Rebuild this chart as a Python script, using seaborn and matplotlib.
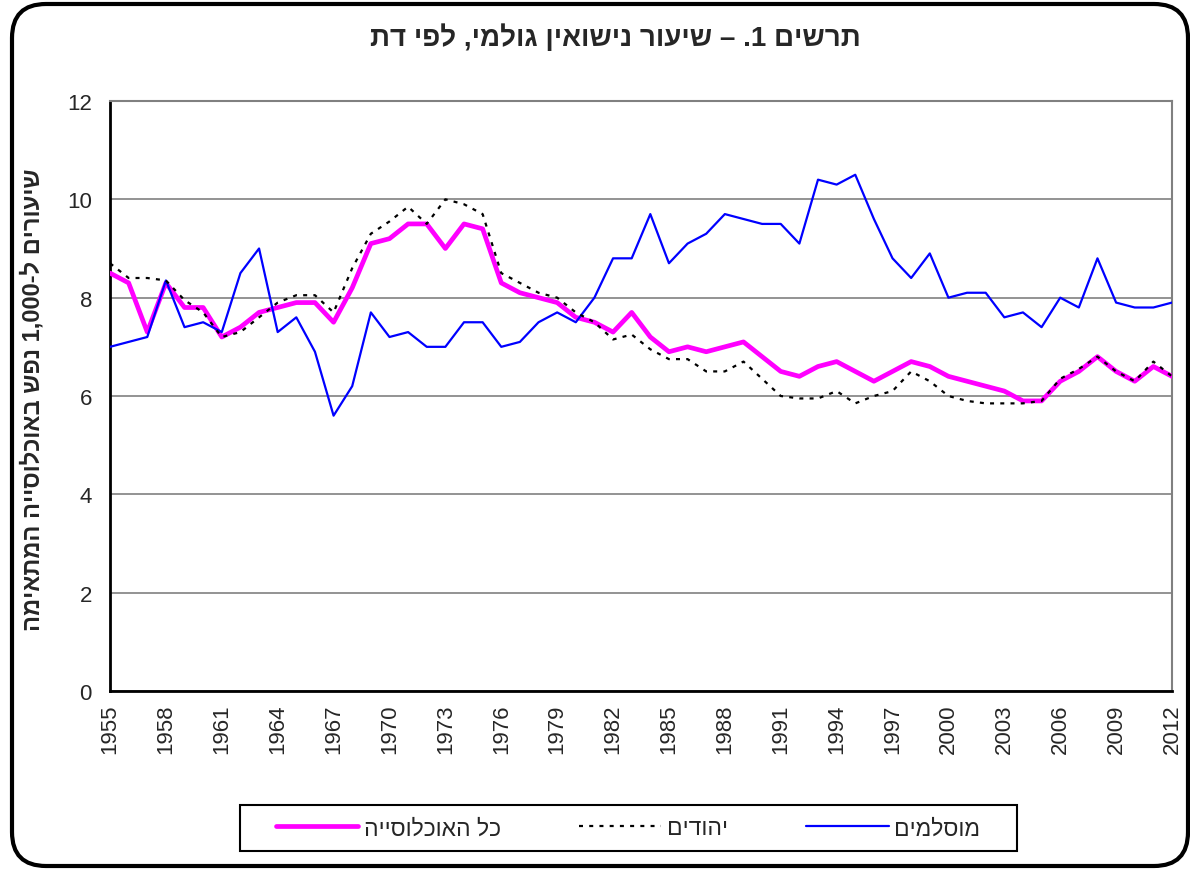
import re
import matplotlib
matplotlib.use("Agg")
import matplotlib.pyplot as plt
from matplotlib.patches import FancyBboxPatch, Rectangle
import pandas as pd
import seaborn as sns

# Crude marriage rate per 1,000 population, by religion, 1955-2012
years = list(range(1955, 2013))

total = [8.5, 8.3, 7.3, 8.3, 7.8, 7.8, 7.2, 7.4, 7.7, 7.8,      # 1955-1964
         7.9, 7.9, 7.5, 8.2, 9.1, 9.2, 9.5, 9.5, 9.0, 9.5,      # 1965-1974
         9.4, 8.3, 8.1, 8.0, 7.9, 7.6, 7.5, 7.3, 7.7, 7.2,      # 1975-1984
         6.9, 7.0, 6.9, 7.0, 7.1, 6.8, 6.5, 6.4, 6.6, 6.7,      # 1985-1994
         6.5, 6.3, 6.5, 6.7, 6.6, 6.4, 6.3, 6.2, 6.1, 5.9,      # 1995-2004
         5.9, 6.3, 6.5, 6.8, 6.5, 6.3, 6.6, 6.4]                # 2005-2012

jews = [8.7, 8.4, 8.4, 8.35, 7.95, 7.7, 7.2, 7.3, 7.6, 7.9,
        8.05, 8.05, 7.7, 8.6, 9.3, 9.55, 9.85, 9.5, 10.0, 9.9,
        9.7, 8.5, 8.3, 8.1, 8.0, 7.7, 7.5, 7.15, 7.25, 6.95,
        6.75, 6.75, 6.5, 6.5, 6.7, 6.35, 6.0, 5.95, 5.95, 6.1,
        5.85, 6.0, 6.1, 6.5, 6.3, 6.0, 5.9, 5.85, 5.85, 5.85,
        5.9, 6.35, 6.55, 6.8, 6.5, 6.3, 6.7, 6.4]

muslims = [7.0, 7.1, 7.2, 8.35, 7.4, 7.5, 7.3, 8.5, 9.0, 7.3,
           7.6, 6.9, 5.6, 6.2, 7.7, 7.2, 7.3, 7.0, 7.0, 7.5,
           7.5, 7.0, 7.1, 7.5, 7.7, 7.5, 8.0, 8.8, 8.8, 9.7,
           8.7, 9.1, 9.3, 9.7, 9.6, 9.5, 9.5, 9.1, 10.4, 10.3,
           10.5, 9.6, 8.8, 8.4, 8.9, 8.0, 8.1, 8.1, 7.6, 7.7,
           7.4, 8.0, 7.8, 8.8, 7.9, 7.8, 7.8, 7.9]

series_names = ["כל האוכלוסייה", "יהודים", "מוסלמים"]
title_text = "תרשים 1. – שיעור נישואין גולמי, לפי דת"
ylabel_text = "שיעורים ל-1,000 נפש באוכלוסייה המתאימה"
y_ticks = [0, 2, 4, 6, 8, 10, 12]
x_label_years = list(range(1955, 2013, 3))


def visual(s):
    """Reorder a right-to-left string for left-to-right drawing, keeping numbers intact."""
    r = s[::-1]
    return re.sub(r"[0-9][0-9.,]*[0-9]|[0-9]", lambda m: m.group(0)[::-1], r)


sns.set_style("white")
plt.rcParams["font.family"] = ["Liberation Sans", "DejaVu Sans"]

W, H, DPI = 1190, 870, 100
fig = plt.figure(figsize=(W / DPI, H / DPI), dpi=DPI)
fig.patch.set_facecolor("white")

L, R, T, B = 110, 1172, 102, 692
ax = fig.add_axes([L / W, 1 - B / H, (R - L) / W, (B - T) / H])

df = pd.DataFrame({"year": years, "total": total, "jews": jews, "muslims": muslims})

sns.lineplot(data=df, x="year", y="total", ax=ax, color="#FF00FF", linewidth=3.4,
             label=visual(series_names[0]), zorder=3)
sns.lineplot(data=df, x="year", y="muslims", ax=ax, color="#0000FF", linewidth=1.6,
             label=visual(series_names[2]), zorder=4)
sns.lineplot(data=df, x="year", y="jews", ax=ax, color="black", linewidth=1.6,
             linestyle=(0, (1.8, 2.8)), label=visual(series_names[1]), zorder=5)

ax.set_xlim(1955, 2012)
ax.set_ylim(0, 12)
ax.set_yticks(y_ticks)
ax.set_yticklabels([str(v) for v in y_ticks], fontsize=16)
ax.set_xticks(years)
ax.set_xticklabels([str(y) if y in x_label_years else "" for y in years],
                   rotation=90, fontsize=16)
ax.tick_params(axis="both", direction="out", length=6, width=1.5, color="black")
ax.tick_params(axis="y", pad=7)
ax.tick_params(axis="x", pad=3)
ax.set_xlabel("")
ax.set_ylabel("")

ax.yaxis.grid(True, color="#808080", linewidth=1.2)
ax.xaxis.grid(False)
ax.set_axisbelow(True)
for side in ("left", "bottom"):
    ax.spines[side].set_color("black")
    ax.spines[side].set_linewidth(2)
for side in ("top", "right"):
    ax.spines[side].set_color("#808080")
    ax.spines[side].set_linewidth(1.5)

# Legend: handles ordered left to right, framed by a separate box
handles, labels = ax.get_legend_handles_labels()
order = [labels.index(visual(n)) for n in series_names]
ax.get_legend().remove()
fig.legend([handles[i] for i in order], [labels[i] for i in order],
           loc="center", bbox_to_anchor=(628 / W, 1 - 829 / H), ncol=3,
           frameon=False, fontsize=16.5, handlelength=3.6, handletextpad=0.25,
           columnspacing=3.4)
fig.add_artist(Rectangle((240 / W, 1 - 852 / H), (1017 - 240) / W, 46 / H,
                         transform=fig.transFigure, fill=False,
                         edgecolor="black", linewidth=1.5))

fig.text(615 / W, 1 - 38 / H, visual(title_text), ha="center", va="center",
         fontsize=20, fontweight="bold")
fig.text(33 / W, 1 - 400 / H, visual(ylabel_text), ha="center", va="center",
         rotation=90, fontsize=17, fontweight="bold")

# Rounded outer frame
fig.add_artist(FancyBboxPatch((12, 3), 1176, 862,
                              boxstyle="round,pad=0,rounding_size=34",
                              transform=None, fill=False,
                              edgecolor="black", linewidth=3))

fig.savefig("out.png", dpi=DPI, facecolor="white")
